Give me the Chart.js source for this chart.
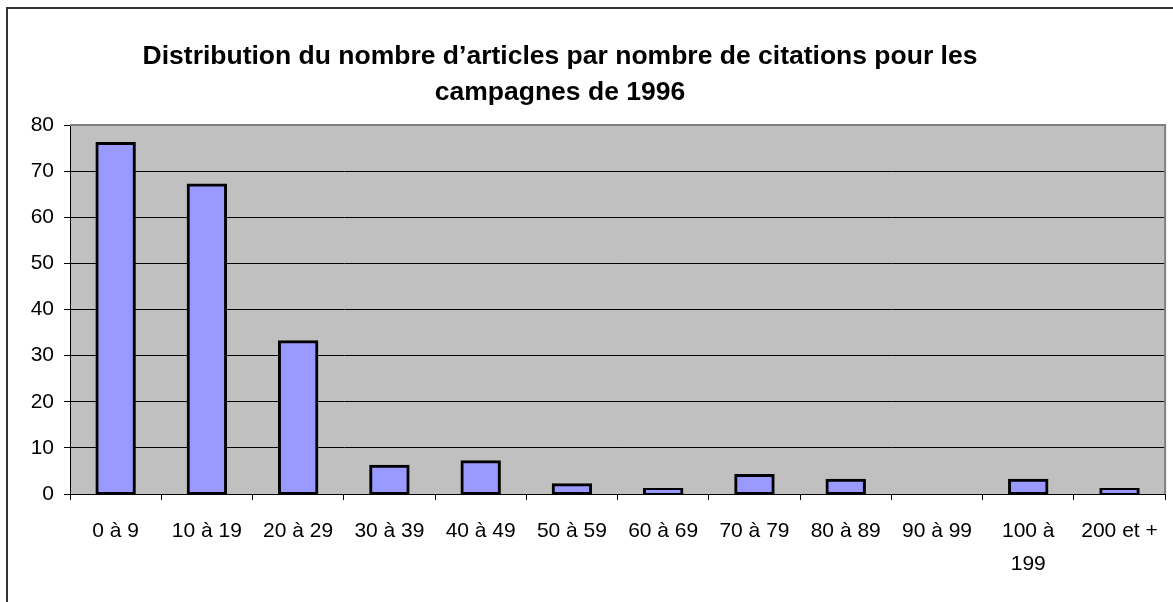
<!DOCTYPE html>
<html lang="fr">
<head>
  <meta charset="UTF-8" />
  <title>Distribution du nombre d'articles par nombre de citations</title>
  <script src="https://cdn.jsdelivr.net/npm/chart.js"></script>
  <style>
    body {
      margin: 0;
      background: #fff;
      font-family: "Liberation Sans", Arial, sans-serif;
      overflow: hidden;
    }
    #wrap {
      position: relative;
      width: 1173px;
      height: 602px;
    }
    #frame {
      position: absolute;
      left: 6px;
      top: 7px;
      width: 1200px;
      height: 700px;
      border-left: 2px solid #333;
      border-top: 2px solid #333;
      pointer-events: none;
    }
    #title {
      position: absolute;
      left: 0;
      top: 37px;
      width: 1120px;
      text-align: center;
      font-weight: bold;
      font-size: 26.5px;
      line-height: 36px;
      color: #000;
    }
    canvas {
      position: absolute;
      left: 0;
      top: 0;
    }
  </style>
</head>
<body>
  <div id="wrap">
    <canvas id="citChart" width="1173" height="602"></canvas>
    <div id="frame"></div>
    <div id="title">Distribution du nombre d’articles par nombre de citations pour les<br>campagnes de 1996</div>
  </div>

  <script>
    const categories = [
      "0 à 9", "10 à 19", "20 à 29", "30 à 39", "40 à 49", "50 à 59",
      "60 à 69", "70 à 79", "80 à 89", "90 à 99", ["100 à", "199"], "200 et +"
    ];
    const articleCounts = [76, 67, 33, 6, 7, 2, 1, 4, 3, 0, 3, 1];
    const yTicks = [0, 10, 20, 30, 40, 50, 60, 70, 80];

    // fond gris de la zone de tracé + bord haut/droit gris
    const plotArea = {
      id: "plotArea",
      beforeDraw(chart) {
        const { ctx, chartArea: a } = chart;
        ctx.save();
        ctx.fillStyle = "#c0c0c0";
        ctx.fillRect(a.left, a.top, a.right - a.left, a.bottom - a.top);
        ctx.restore();
      },
      beforeDatasetsDraw(chart) {
        const { ctx, chartArea: a } = chart;
        ctx.save();
        ctx.strokeStyle = "#808080";
        ctx.lineWidth = 2;
        ctx.beginPath();
        ctx.moveTo(a.left, a.top);
        ctx.lineTo(a.right, a.top);
        ctx.lineTo(a.right, a.bottom);
        ctx.stroke();
        ctx.restore();
      }
    };

    const tickFont = { family: "'Liberation Sans', Arial, sans-serif", size: 21 };

    new Chart(document.getElementById("citChart"), {
      type: "bar",
      data: {
        labels: categories,
        datasets: [{
          data: articleCounts,
          backgroundColor: "#9999ff",
          borderColor: "#000",
          borderWidth: 3,
          borderSkipped: false,
          inflateAmount: 1.5,
          barPercentage: 0.41,
          categoryPercentage: 1
        }]
      },
      options: {
        responsive: false,
        animation: false,
        layout: { padding: { top: 125, right: 6, left: 0, bottom: 0 } },
        plugins: {
          legend: { display: false },
          title: { display: false },
          tooltip: { enabled: false }
        },
        scales: {
          x: {
            offset: true,
            grid: {
              offset: true,
              drawOnChartArea: false,
              drawTicks: true,
              tickLength: 6,
              color: "#000"
            },
            border: { color: "#000", width: 1 },
            ticks: {
              color: "#000",
              font: { ...tickFont, lineHeight: "33px" },
              padding: 15,
              maxRotation: 0,
              autoSkip: false
            },
            afterFit(scale) { scale.height = 108; }
          },
          y: {
            min: 0,
            max: 80,
            afterBuildTicks(scale) {
              scale.ticks = yTicks.map(v => ({ value: v }));
            },
            grid: {
              color: "#000",
              lineWidth: 1,
              tickLength: 6
            },
            border: { color: "#000", width: 1 },
            ticks: {
              color: "#000",
              font: tickFont,
              padding: 10
            },
            afterFit(scale) { scale.width = 70; }
          }
        }
      },
      plugins: [plotArea]
    });
  </script>
</body>
</html>
